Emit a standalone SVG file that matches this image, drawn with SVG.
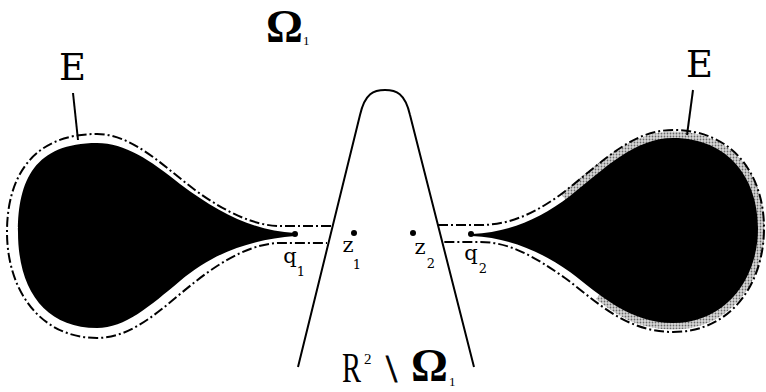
<svg xmlns="http://www.w3.org/2000/svg" width="766" height="392" viewBox="0 0 766 392">
<style>
.dash{fill:none;stroke:#000;stroke-width:2;stroke-dasharray:10 3 2 3}
.line{fill:none;stroke:#000;stroke-width:2}
.lab{font-family:"DejaVu Serif","Liberation Serif",serif;fill:#000}
.serif{font-family:"Liberation Serif","DejaVu Serif",serif;fill:#000}
.pt{fill:#000}
</style>
<defs>
<pattern id="stip" width="3" height="3" patternUnits="userSpaceOnUse">
<rect width="3" height="3" fill="#d8d8d8"/>
<circle cx="1.5" cy="1.5" r="0.9" fill="#6a6a6a"/>
</pattern>
</defs>
<rect width="766" height="392" fill="#fff"/>

<g id="region-omega1">
<path class="line" d="M298,367 L360,115 C365,93 374,90 385,90 C396,90 405,93 410,115 L474,367"/>
</g>

<g id="blob-left">
<path class="dash" d="M331,226 L280,226 C255,226 225,212 195,190 C162,165 132,134 97,134 C30,134 7,180 7,232 C7,290 40,338 97,338 C135,338 165,305 195,282 C225,258 255,243 280,243 L327,243"/>
<path fill="#000" d="M295,233 C255,231 220,214 180,184 C150,160 125,143 97,143 C35,143 18,180 18,232 C18,290 45,328 97,328 C125,328 150,306 180,281 C215,251 255,239 295,236 Z"/>
</g>

<g id="blob-right">
<path fill="none" stroke="url(#stip)" stroke-width="13" d="M565,199 C595,175 630,138 673,138 C730,138 758,180 758,228 C758,280 725,323 673,323 C640,323 620,310 600,294"/>
<path class="dash" d="M438,225 L480,225 C510,225 535,213 560,195 C600,165 630,130 673,130 C735,130 764,177 764,228 C764,285 730,332 673,332 C625,332 595,300 565,278 C535,257 510,242 480,242 L442,242"/>
<path fill="#000" d="M472,234 C510,232 540,219 570,196 C605,168 635,138 673,138 C730,138 758,180 758,228 C758,280 725,323 673,323 C630,323 600,295 570,272 C540,251 510,238 472,236 Z"/>
</g>

<g id="point-q1"><circle class="pt" cx="295" cy="234" r="3"/>
<text class="lab" x="290" y="263" font-size="21" text-anchor="middle">q</text>
<text class="lab" x="301" y="276" font-size="13" text-anchor="middle">1</text></g>
<g id="point-z1"><circle class="pt" cx="354" cy="233" r="3"/>
<text class="lab" x="348" y="252" font-size="21" text-anchor="middle">z</text>
<text class="lab" x="357" y="269" font-size="13" text-anchor="middle">1</text></g>
<g id="point-z2"><circle class="pt" cx="413" cy="233" r="3"/>
<text class="lab" x="420" y="254" font-size="21" text-anchor="middle">z</text>
<text class="lab" x="431" y="268" font-size="13" text-anchor="middle">2</text></g>
<g id="point-q2"><circle class="pt" cx="471" cy="234" r="3"/>
<text class="lab" x="471" y="260" font-size="21" text-anchor="middle">q</text>
<text class="lab" x="483" y="273" font-size="13" text-anchor="middle">2</text></g>

<g id="label-E-left"><text class="lab" x="72.5" y="80" font-size="37" text-anchor="middle">E</text></g>
<g id="label-E-right"><text class="lab" x="699.5" y="77" font-size="37" text-anchor="middle">E</text></g>

<g id="label-omega1">
<text class="serif" x="266" y="42" font-size="46" font-weight="bold">Ω</text>
<text class="serif" x="303" y="45" font-size="13">1</text>
</g>

<g id="label-complement">
<text class="serif" transform="translate(342,382) scale(0.68,1)" font-size="42">R</text>
<text class="serif" x="364" y="364" font-size="15">2</text>
<text class="serif" x="386" y="382" font-size="40" stroke="#000" stroke-width="0.8">\</text>
<text class="serif" x="411" y="381" font-size="46" font-weight="bold">Ω</text>
<text class="serif" x="449" y="386" font-size="13">1</text>
</g>

<g id="connectors">
<line class="line" x1="73" y1="93" x2="78" y2="140"/>
<line class="line" x1="693" y1="90" x2="687" y2="135"/>
</g>
</svg>
